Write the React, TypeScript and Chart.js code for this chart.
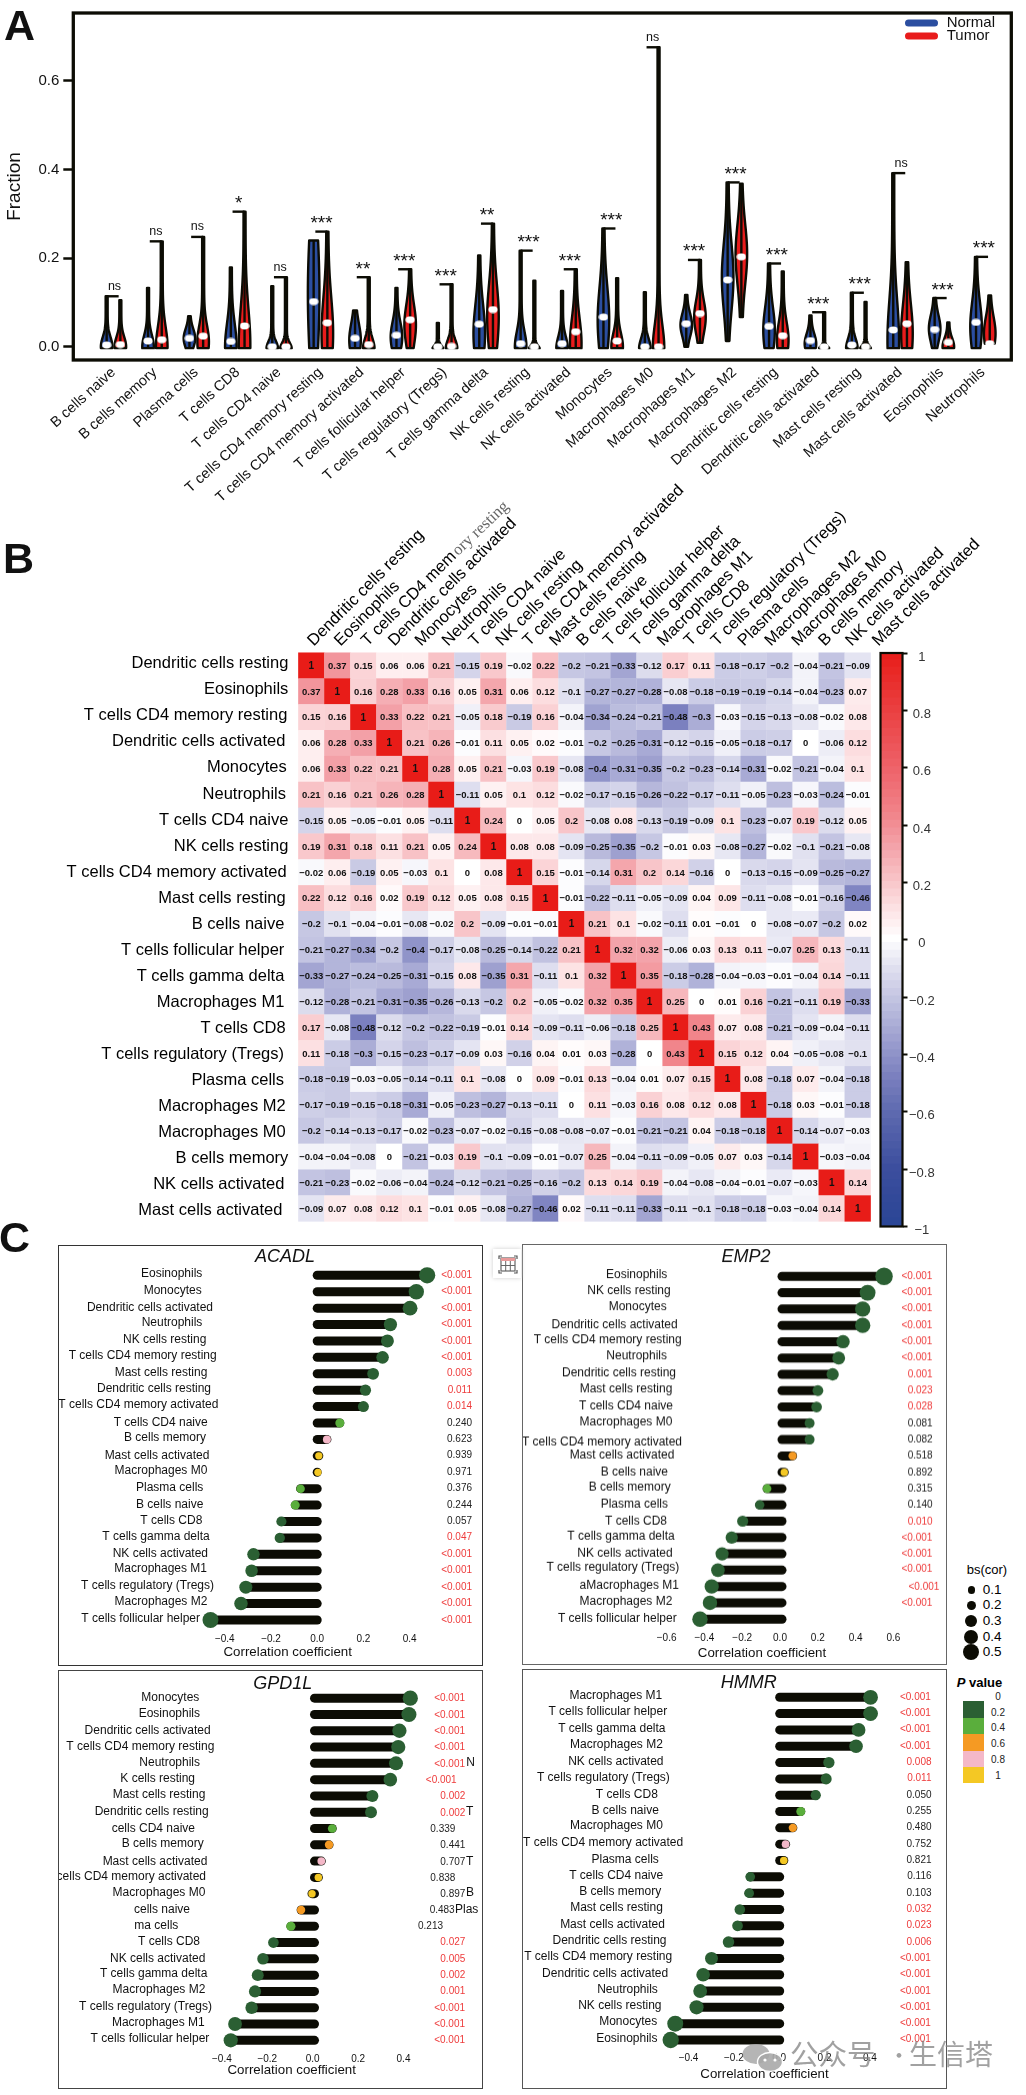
import React, { useEffect, useRef } from 'react';
import { Chart, registerables } from 'chart.js';
Chart.register(...registerables);

const FONT = '"Liberation Sans", Arial, sans-serif';
const INK = '#0c0c04';

/* ---------- Panel A data ---------- */
const violinCategories = ['B cells naive', 'B cells memory', 'Plasma cells', 'T cells CD8', 'T cells CD4 naive', 'T cells CD4 memory resting', 'T cells CD4 memory activated', 'T cells follicular helper', 'T cells regulatory (Tregs)', 'T cells gamma delta', 'NK cells resting', 'NK cells activated', 'Monocytes', 'Macrophages M0', 'Macrophages M1', 'Macrophages M2', 'Dendritic cells resting', 'Dendritic cells activated', 'Mast cells resting', 'Mast cells activated', 'Eosinophils', 'Neutrophils'];
const normalMax = [.114, .133, .069, .179, .137, .240, .082, .133, .054, .206, .217, .126, .267, .123, .117, .371, .188, .071, .122, .392, .110, .203];
const tumorMax = [.105, .238, .248, .305, .157, .260, .157, .175, .141, .278, .149, .175, .155, .676, .196, .368, .170, .078, .101, .191, .055, .116];
const normalMin = [-.003, -.003, -.003, -.003, -.003, -.003, -.003, -.003, -.003, -.003, -.003, -.003, -.003, -.003, 0, .013, -.003, -.003, -.003, -.003, -.003, -.003];
const tumorMin = [-.003, -.003, -.003, -.003, -.003, -.003, -.003, -.003, -.003, -.003, -.003, -.003, -.003, -.003, .009, .067, -.003, -.003, -.003, -.003, -.003, .007];
const normalMedian = [.004, .013, .019, .012, 0, .102, .019, .026, 0, .051, .007, .007, .067, 0, .052, .151, .046, .014, .004, .038, .039, .055];
const tumorMedian = [.005, .016, .024, .047, 0, .054, .005, .061, .001, .084, 0, .034, .013, 0, .075, .203, .025, 0, 0, .052, .010, .007];
const normalPeak = [0, 0, .019, 0, -.004, .120, .015, .022, -.007, .030, 0, -.004, .060, -.004, .049, .157, .037, .007, -.004, .015, .041, .045];
const tumorPeak = [0, 0, .011, .004, -.004, .030, -.004, .049, -.004, .067, -.007, .007, 0, -.004, .067, .209, .015, -.007, -.007, .030, 0, .030];
const normalSpread = [.022, .026, .021, .052, .016, .149, .037, .034, .009, .064, .034, .026, .075, .022, .026, .075, .052, .022, .022, .090, .030, .056];
const tumorSpread = [.022, .045, .037, .082, .013, .082, .022, .045, .019, .075, .009, .056, .030, .052, .037, .067, .041, .007, .009, .067, .019, .037];
const significance = ['ns', 'ns', 'ns', '*', 'ns', '***', '**', '***', '***', '**', '***', '***', '***', 'ns', '***', '***', '***', '***', '***', 'ns', '***', '***'];
const fractionTicks = [0, .2, .4, .6];

/* ---------- Panel B data ---------- */
const corrLabels = ['Dendritic cells resting', 'Eosinophils', 'T cells CD4 memory resting', 'Dendritic cells activated', 'Monocytes', 'Neutrophils', 'T cells CD4 naive', 'NK cells resting', 'T cells CD4 memory activated', 'Mast cells resting', 'B cells naive', 'T cells follicular helper', 'T cells gamma delta', 'Macrophages M1', 'T cells CD8', 'T cells regulatory (Tregs)', 'Plasma cells', 'Macrophages M2', 'Macrophages M0', 'B cells memory', 'NK cells activated', 'Mast cells activated'];
const corrRows = [
  [1, .37, .15, .06, .06, .21, -.15, .19, -.02, .22, -.2, -.21, -.33, -.12, .17, .11, -.18, -.17, -.2, -.04, -.21, -.09],
  [.37, 1, .16, .28, .33, .16, .05, .31, .06, .12, -.1, -.27, -.27, -.28, -.08, -.18, -.19, -.19, -.14, -.04, -.23, .07],
  [.15, .16, 1, .33, .22, .21, -.05, .18, -.19, .16, -.04, -.34, -.24, -.21, -.48, -.3, -.03, -.15, -.13, -.08, -.02, .08],
  [.06, .28, .33, 1, .21, .26, -.01, .11, .05, .02, -.01, -.2, -.25, -.31, -.12, -.15, -.05, -.18, -.17, 0, -.06, .12],
  [.06, .33, .22, .21, 1, .28, .05, .21, -.03, .19, -.08, -.4, -.31, -.35, -.2, -.23, -.14, -.31, -.02, -.21, -.04, .1],
  [.21, .16, .21, .26, .28, 1, -.11, .05, .1, .12, -.02, -.17, -.15, -.26, -.22, -.17, -.11, -.05, -.23, -.03, -.24, -.01],
  [-.15, .05, -.05, -.01, .05, -.11, 1, .24, 0, .05, .2, -.08, .08, -.13, -.19, -.09, .1, -.23, -.07, .19, -.12, .05],
  [.19, .31, .18, .11, .21, .05, .24, 1, .08, .08, -.09, -.25, -.35, -.2, -.01, .03, -.08, -.27, -.02, -.1, -.21, -.08],
  [-.02, .06, -.19, .05, -.03, .1, 0, .08, 1, .15, -.01, -.14, .31, .2, .14, -.16, 0, -.13, -.15, -.09, -.25, -.27],
  [.22, .12, .16, .02, .19, .12, .05, .08, .15, 1, -.01, -.22, -.11, -.05, -.09, .04, .09, -.11, -.08, -.01, -.16, -.46],
  [-.2, -.1, -.04, -.01, -.08, -.02, .2, -.09, -.01, -.01, 1, .21, .1, -.02, -.11, .01, -.01, 0, -.08, -.07, -.2, .02],
  [-.21, -.27, -.34, -.2, -.4, -.17, -.08, -.25, -.14, -.22, .21, 1, .32, .32, -.06, .03, .13, .11, -.07, .25, .13, -.11],
  [-.33, -.27, -.24, -.25, -.31, -.15, .08, -.35, .31, -.11, .1, .32, 1, .35, -.18, -.28, -.04, -.03, -.01, -.04, .14, -.11],
  [-.12, -.28, -.21, -.31, -.35, -.26, -.13, -.2, .2, -.05, -.02, .32, .35, 1, .25, 0, .01, .16, -.21, -.11, .19, -.33],
  [.17, -.08, -.48, -.12, -.2, -.22, -.19, -.01, .14, -.09, -.11, -.06, -.18, .25, 1, .43, .07, .08, -.21, -.09, -.04, -.11],
  [.11, -.18, -.3, -.15, -.23, -.17, -.09, .03, -.16, .04, .01, .03, -.28, 0, .43, 1, .15, .12, .04, -.05, -.08, -.1],
  [-.18, -.19, -.03, -.05, -.14, -.11, .1, -.08, 0, .09, -.01, .13, -.04, .01, .07, .15, 1, .08, -.18, .07, -.04, -.18],
  [-.17, -.19, -.15, -.18, -.31, -.05, -.23, -.27, -.13, -.11, 0, .11, -.03, .16, .08, .12, .08, 1, -.18, .03, -.01, -.18],
  [-.2, -.14, -.13, -.17, -.02, -.23, -.07, -.02, -.15, -.08, -.08, -.07, -.01, -.21, -.21, .04, -.18, -.18, 1, -.14, -.07, -.03],
  [-.04, -.04, -.08, 0, -.21, -.03, .19, -.1, -.09, -.01, -.07, .25, -.04, -.11, -.09, -.05, .07, .03, -.14, 1, -.03, -.04],
  [-.21, -.23, -.02, -.06, -.04, -.24, -.12, -.21, -.25, -.16, -.2, .13, .14, .19, -.04, -.08, -.04, -.01, -.07, -.03, 1, .14],
  [-.09, .07, .08, .12, .1, -.01, .05, -.08, -.27, -.46, .02, -.11, -.11, -.33, -.11, -.1, -.18, -.18, -.03, -.04, .14, 1],
];
const colorbarTicks = [1, .8, .6, .4, .2, 0, -.2, -.4, -.6, -.8, -1];
const corrLabelEnds = [865, 865, 862, 856, 860, 858, 865, 865, 860, 857, 853, 853, 853, 853, 857, 852, 852, 857, 857, 865, 853, 847];
const corrLabelMids = [491, 569, 647, 725, 803, 884, 961, 1039, 1117, 1195, 1273, 1351, 1430, 1508, 1586, 1664, 1742, 1820, 1898, 1976, 2054, 2132];

/* ---------- Panel C data ---------- */
const acadlLabels = ['Eosinophils', 'Monocytes', 'Dendritic cells activated', 'Neutrophils', 'NK cells resting', 'T cells CD4 memory resting', 'Mast cells resting', 'Dendritic cells resting', 'T cells CD4 memory activated', 'T cells CD4 naive', 'B cells memory', 'Mast cells activated', 'Macrophages M0', 'Plasma cells', 'B cells naive', 'T cells CD8', 'T cells gamma delta', 'NK cells activated', 'Macrophages M1', 'T cells regulatory (Tregs)', 'Macrophages M2', 'T cells follicular helper'];
const acadlCor = [.476, .429, .402, .317, .304, .283, .242, .209, .200, .098, .042, .007, .003, -.072, -.095, -.155, -.162, -.276, -.284, -.309, -.330, -.462];
const acadlP = ['<0.001', '<0.001', '<0.001', '<0.001', '<0.001', '<0.001', '0.003', '0.011', '0.014', '0.240', '0.623', '0.939', '0.971', '0.376', '0.244', '0.057', '0.047', '<0.001', '<0.001', '<0.001', '<0.001', '<0.001'];

const emp2Labels = ['Eosinophils', 'NK cells resting', 'Monocytes', 'Dendritic cells activated', 'T cells CD4 memory resting', 'Neutrophils', 'Dendritic cells resting', 'Mast cells resting', 'T cells CD4 naive', 'Macrophages M0', 'T cells CD4 memory activated', 'Mast cells activated', 'B cells naive', 'B cells memory', 'Plasma cells', 'T cells CD8', 'T cells gamma delta', 'NK cells activated', 'T cells regulatory (Tregs)', 'aMacrophages M1', 'Macrophages M2', 'T cells follicular helper'];
const emp2Cor = [.540, .453, .427, .427, .323, .300, .268, .190, .183, .146, .146, .056, .012, -.079, -.118, -.208, -.266, -.317, -.339, -.372, -.381, -.434];
const emp2P = ['<0.001', '<0.001', '<0.001', '<0.001', '<0.001', '<0.001', '0.001', '0.023', '0.028', '0.081', '0.082', '0.518', '0.892', '0.315', '0.140', '0.010', '<0.001', '<0.001', '<0.001', '<0.001', '<0.001', ''];

const gpd1lLabels = ['Monocytes', 'Eosinophils', 'Dendritic cells activated', 'T cells CD4 memory resting', 'Neutrophils', 'K cells resting', 'Mast cells resting', 'Dendritic cells resting', 'cells CD4 naive', 'B cells memory', 'Mast cells activated', 'cells CD4 memory activated', 'Macrophages M0', 'cells naive', 'ma cells', 'T cells CD8', 'NK cells activated', 'T cells gamma delta', 'Macrophages M2', 'T cells regulatory (Tregs)', 'Macrophages M1', 'T cells follicular helper'];
const gpd1lCor = [.422, .416, .374, .369, .359, .334, .255, .249, .078, .064, .030, .017, -.011, -.059, -.104, -.181, -.227, -.250, -.262, -.277, -.350, -.369];
const gpd1lP = ['<0.001', '<0.001', '<0.001', '<0.001', '<0.001', '<0.001', '0.002', '0.002', '0.339', '0.441', '0.707', '0.838', '0.897', '0.483', '0.213', '0.027', '0.005', '0.002', '0.001', '<0.001', '<0.001', '<0.001'];

const hmmrLabels = ['Macrophages M1', 'T cells follicular helper', 'T cells gamma delta', 'Macrophages M2', 'NK cells activated', 'T cells regulatory (Tregs)', 'T cells CD8', 'B cells naive', 'Macrophages M0', 'T cells CD4 memory activated', 'Plasma cells', 'T cells CD4 naive', 'B cells memory', 'Mast cells resting', 'Mast cells activated', 'Dendritic cells resting', 'T cells CD4 memory resting', 'Dendritic cells activated', 'Neutrophils', 'NK cells resting', 'Monocytes', 'Eosinophils'];
const hmmrCor = [.401, .401, .348, .337, .217, .205, .159, .093, .058, .026, .018, -.130, -.135, -.176, -.186, -.226, -.301, -.338, -.351, -.367, -.461, -.481];
const hmmrP = ['<0.001', '<0.001', '<0.001', '<0.001', '0.008', '0.011', '0.050', '0.255', '0.480', '0.752', '0.821', '0.116', '0.103', '0.032', '0.023', '0.006', '<0.001', '<0.001', '<0.001', '<0.001', '<0.001', '<0.001'];

const ticks4 = [-.4, -.2, 0, .2, .4];
const ticks6 = [-.6, -.4, -.2, 0, .2, .4, .6];
const bsLegendValues = [.1, .2, .3, .4, .5];
const pLegendTicks = ['0', '0.2', '0.4', '0.6', '0.8', '1'];
const pBinColors = ['#2b5f33', '#5aae3c', '#f59a23', '#f4b8c8', '#f4c824'];

/* ---------- layout of panel C (reference-pixel readings, 3x crop units) ---------- */
const panels: any[] = [
  {
    title: 'ACADL', labels: acadlLabels, cor: acadlCor, p: acadlP, ticks: ticks4,
    left: 59, right: 482, top: 1246, bottom: 1665, baseX: 0, baseY: 1240,
    zero: 317.2, unit: 231, center: 287.7, row0: 1275.3, rowN: 1620, tickShift: 0, titleX: 285, titleY: 1256.7, axisPad: 4.5, tickPad: 5,
    labelEnd: [607, 605, 639, 607, 619, 650, 622, 633, 655, 623, 618, 628, 622, 610, 610, 607, 629, 624, 621, 642, 622, 600],
    labelMid: [102, 153, 204, 249, 300, 348, 399, 447, 495, 549, 594, 648, 693, 744, 795, 843, 891, 942, 987, 1038, 1086, 1137],
    pEnd: Array(22).fill(1416),
    pMid: [106, 155, 205, 254, 304, 353, 401, 451, 500, 550, 598, 647, 697, 745, 796, 845, 892, 943, 991, 1042, 1090, 1141],
    stray: [], border: '#333',
  },
  {
    title: 'EMP2', labels: emp2Labels, cor: emp2Cor, p: emp2P, ticks: ticks6,
    left: 523, right: 946, top: 1245, bottom: 1663.5, baseX: 510, baseY: 1240,
    zero: 782, unit: 189, center: 762, row0: 1276.3, rowN: 1618.7, tickShift: -2, titleX: 746, titleY: 1256.7, axisPad: 2.8, tickPad: 5,
    labelEnd: [472, 482, 470, 503, 515, 471, 498, 487, 489, 487, 516, 493, 474, 482, 474, 471, 494, 488, 508, 507, 487, 500],
    labelMid: [105, 153, 201, 255, 300, 348, 399, 447, 498, 546, 606, 645, 696, 741, 792, 843, 888, 939, 981, 1035, 1083, 1134],
    pEnd: [1267, 1267, 1267, 1267, 1267, 1267, 1268, 1268, 1268, 1268, 1268, 1268, 1268, 1268, 1268, 1268, 1267, 1267, 1267, 1288, 1267, 1267],
    pMid: [109, 157, 205, 256, 304, 352, 403, 451, 499, 550, 598, 646, 697, 745, 793, 844, 892, 940, 985, 1039, 1087, 1136],
    stray: [], border: '#666',
  },
  {
    title: 'GPD1L', labels: gpd1lLabels, cor: gpd1lCor, p: gpd1lP, ticks: ticks4,
    left: 59, right: 482, top: 1670.5, bottom: 2088, baseX: 0, baseY: 1640,
    zero: 314.5, unit: 227, center: 291.7, row0: 1697.7, rowN: 2040.3, tickShift: -1.8, titleX: 282.7, titleY: 1683.3, axisPad: 9.5, tickPad: 4.5,
    labelEnd: [598, 600, 632, 643, 600, 585, 616, 626, 585, 611, 622, 618, 616, 570, 535, 600, 616, 622, 616, 636, 614, 628],
    labelMid: [171, 219, 270, 318, 366, 414, 462, 513, 564, 609, 663, 708, 756, 807, 855, 903, 954, 999, 1047, 1098, 1146, 1194],
    pEnd: [1395, 1395, 1395, 1395, 1395, 1370, 1396, 1396, 1366, 1396, 1396, 1366, 1396, 1364, 1329, 1396, 1396, 1396, 1396, 1395, 1395, 1395],
    pMid: [172, 223, 271, 319, 370, 418, 466, 517, 565, 613, 664, 712, 760, 808, 856, 904, 955, 1003, 1051, 1102, 1150, 1198],
    stray: [['N', 1399, 366], ['T', 1398, 513], ['T', 1398, 663], ['B', 1398, 756], ['Plas', 1365, 807]], border: '#444',
  },
  {
    title: 'HMMR', labels: hmmrLabels, cor: hmmrCor, p: hmmrP, ticks: ticks4,
    left: 522.5, right: 945.5, top: 1670, bottom: 2088, baseX: 510, baseY: 1640,
    zero: 779.2, unit: 226.6, center: 764, row0: 1697.3, rowN: 2040, tickShift: -.5, titleX: 748.3, titleY: 1682.7, axisPad: 5.5, tickPad: 4.5,
    labelEnd: [455, 470, 465, 457, 459, 478, 442, 445, 457, 518, 445, 458, 452, 457, 463, 468, 485, 473, 442, 453, 440, 441],
    labelMid: [168, 216, 267, 315, 366, 414, 465, 513, 558, 609, 660, 708, 756, 804, 855, 903, 951, 1002, 1050, 1098, 1146, 1197],
    pEnd: [1261, 1261, 1261, 1261, 1263, 1263, 1263, 1263, 1263, 1263, 1263, 1263, 1263, 1263, 1263, 1263, 1261, 1261, 1261, 1261, 1261, 1261],
    pMid: [172, 220, 268, 319, 367, 415, 466, 514, 562, 613, 661, 709, 760, 808, 856, 907, 955, 1003, 1054, 1102, 1150, 1198],
    stray: [], border: '#555',
  },
];

/* ---------- helpers ---------- */
const RAMP: [number, string][] = [[-1, '#2a4595'], [-.8, '#3c4e9e'], [-.6, '#5f6bb0'], [-.48, '#7b80bf'], [-.33, '#a3a5d2'], [-.2, '#c6c7e3'], [-.1, '#e1e1f0'], [0, '#ffffff'], [.12, '#fcdddf'], [.21, '#f8c2c6'], [.33, '#f3a0a7'], [.43, '#f1858b'], [.6, '#ee6168'], [.8, '#ea3f40'], [1, '#e81c18']];
const hex = (s: string) => [1, 3, 5].map(i => parseInt(s.slice(i, i + 2), 16));
function ramp(v: number) {
  for (let i = 1; i < RAMP.length; i++) {
    if (v <= RAMP[i][0]) {
      const [a, ca] = RAMP[i - 1];
      const [b, cb] = RAMP[i];
      const t = (v - a) / (b - a);
      const A = hex(ca);
      const B = hex(cb);
      return `rgb(${A.map((x, k) => Math.round(x + (B[k] - x) * t)).join(',')})`;
    }
  }
  return RAMP[RAMP.length - 1][1];
}
const minus = (s: string) => s.replace('-', '\u2212');
const fmt = (v: number) => minus(String(v));

// Puts an axis' tick labels at individually read positions (the pasted labels of the figure are not aligned).
function placeTicks(scaleId: string, pos: [number, number][]) {
  return {
    id: 'place-' + scaleId,
    beforeDraw(chart: any) {
      const s = chart.scales[scaleId];
      s._computeLabelArea = () => null;
      const items = s.getLabelItems();
      if (items.__placed) return;
      items.__placed = true;
      items.forEach((it: any, i: number) => {
        if (pos[i]) it.options.translation = pos[i];
      });
    },
  };
}

const base = { responsive: false, animation: false as const, events: [] as string[] };
const quiet = { legend: { display: false }, tooltip: { enabled: false } };

function violinConfig(ellipse: HTMLCanvasElement) {
  const H = 510;
  const L = 73.3, R = 1011.3, T = 10.7, B = 360;
  const x0 = 113.5, pitch = 41.4, zeroY = 346.7, unitY = 446;
  const off = 6.85 / pitch;
  const violins = {
    id: 'violins',
    beforeDatasetsDraw(chart: any) {
      const { ctx, scales: { x, y } } = chart;
      const draw = (cx: number, lo: number, hi: number, pk: number, sd: number, col: string) => {
        const hw = (v: number) => 1 + 4.8 * Math.exp(-.5 * ((v - pk) / sd) ** 2);
        const n = 48;
        ctx.beginPath();
        for (let k = 0; k <= n; k++) {
          const v = lo + (hi - lo) * k / n;
          ctx.lineTo(x.getPixelForValue(cx) - hw(v), y.getPixelForValue(v));
        }
        for (let k = n; k >= 0; k--) {
          const v = lo + (hi - lo) * k / n;
          ctx.lineTo(x.getPixelForValue(cx) + hw(v), y.getPixelForValue(v));
        }
        ctx.closePath();
        ctx.fillStyle = col;
        ctx.fill();
        ctx.lineWidth = 2.4;
        ctx.lineJoin = 'round';
        ctx.strokeStyle = INK;
        ctx.stroke();
        ctx.beginPath();
        ctx.moveTo(x.getPixelForValue(cx), y.getPixelForValue(lo));
        ctx.lineTo(x.getPixelForValue(cx), y.getPixelForValue(hi));
        ctx.stroke();
      };
      ctx.save();
      violinCategories.forEach((_, i) => {
        draw(i - off, normalMin[i], normalMax[i], normalPeak[i], normalSpread[i], '#2b4ea0');
        draw(i + off, tumorMin[i], tumorMax[i], tumorPeak[i], tumorSpread[i], '#e81c1c');
        const nHigh = normalMax[i] >= tumorMax[i];
        const top = Math.max(normalMax[i], tumorMax[i]);
        const sx = x.getPixelForValue(nHigh ? i - off : i + off);
        const py = y.getPixelForValue(top);
        ctx.beginPath();
        ctx.moveTo(sx, py);
        ctx.lineTo(sx + (nHigh ? 12 : -12), py);
        ctx.stroke();
        const cxp = x.getPixelForValue(i) + 1;
        ctx.fillStyle = '#111';
        ctx.textAlign = 'center';
        if (significance[i] === 'ns') {
          ctx.font = `12.5px ${FONT}`;
          ctx.textBaseline = 'middle';
          ctx.fillText('ns', cxp, py - 10);
        } else {
          ctx.font = `19px ${FONT}`;
          ctx.textBaseline = 'alphabetic';
          ctx.fillText(significance[i], cxp, py - 2.5);
        }
      });
      ctx.restore();
    },
    afterDraw(chart: any) {
      const { ctx, chartArea: a } = chart;
      ctx.save();
      ctx.strokeStyle = INK;
      ctx.lineWidth = 3.3;
      ctx.strokeRect(a.left, a.top, a.right - a.left, a.bottom - a.top);
      const bar = (yy: number, col: string, label: string) => {
        ctx.fillStyle = col;
        ctx.beginPath();
        ctx.roundRect(905, yy - 3.5, 33, 7, 3.5);
        ctx.fill();
        ctx.fillStyle = '#111';
        ctx.font = `15px ${FONT}`;
        ctx.textAlign = 'left';
        ctx.textBaseline = 'middle';
        ctx.fillText(label, 946.7, yy);
      };
      bar(23, '#2b4ea0', 'Normal');
      bar(36, '#e81c1c', 'Tumor');
      ctx.restore();
    },
  };
  return {
    type: 'scatter',
    data: {
      datasets: [
        { label: 'Normal', data: normalMedian.map((v, i) => ({ x: i - off, y: v })), pointStyle: ellipse, clip: false },
        { label: 'Tumor', data: tumorMedian.map((v, i) => ({ x: i + off, y: v })), pointStyle: ellipse, clip: false },
      ],
    },
    options: {
      ...base,
      layout: { padding: { top: T, right: 1026 - R, left: 0, bottom: 0 } },
      plugins: quiet,
      scales: {
        x: {
          type: 'linear',
          min: (L - x0) / pitch,
          max: (R - x0) / pitch,
          grid: { display: false, drawTicks: false },
          border: { display: false },
          afterBuildTicks: (s: any) => { s.ticks = violinCategories.map((_, i) => ({ value: i })); },
          afterFit: (s: any) => { s.height = H - B; },
          ticks: {
            autoSkip: false, minRotation: 42, maxRotation: 42, padding: 4,
            color: '#111', font: { family: FONT, size: 14.5 },
            callback: (v: number) => violinCategories[v],
          },
        },
        y: {
          type: 'linear',
          min: (zeroY - B) / unitY,
          max: (zeroY - T) / unitY,
          border: { display: false },
          grid: { drawOnChartArea: false, tickLength: 10, tickWidth: 2.5, tickColor: INK },
          afterBuildTicks: (s: any) => { s.ticks = fractionTicks.map(value => ({ value })); },
          afterFit: (s: any) => { s.width = L; },
          title: { display: true, text: 'Fraction', color: '#111', font: { family: FONT, size: 19 }, padding: { top: 3, bottom: 0 } },
          ticks: { padding: 4, color: '#111', font: { family: FONT, size: 15 }, callback: (v: number) => v.toFixed(1) },
        },
      },
    },
    plugins: [violins],
  };
}

function heatmapConfig() {
  const OY = 470, H = 770;
  const L = 298.3, R = 870.7, T = 652.7, B = 1227;
  const points: any[] = [];
  const colors: string[] = [];
  corrRows.forEach((row, r) => row.forEach((v, c) => { points.push({ x: c, y: r, v }); colors.push(ramp(v)); }));
  const yPos = corrLabels.map((_, i) => [corrLabelEnds[i] / 3, 500 + corrLabelMids[i] / 3 - OY] as [number, number]);
  const xPos = corrLabels.map((_, i) => [317.5 + 26.9 * i, 650.5 - OY] as [number, number]);
  const cellText = {
    id: 'cellText',
    afterDatasetsDraw(chart: any) {
      const { ctx, scales: { x, y } } = chart;
      ctx.save();
      ctx.textAlign = 'center';
      ctx.textBaseline = 'middle';
      ctx.fillStyle = '#111';
      points.forEach(p => {
        ctx.font = `bold ${p.v === 1 ? 10 : 9.5}px ${FONT}`;
        ctx.fillText(fmt(p.v), x.getPixelForValue(p.x), y.getPixelForValue(p.y) + .5);
      });
      // the tail of one column label sits in a different, grey serif face in the figure
      ctx.translate(455, 553 - OY);
      ctx.rotate(-43.5 * Math.PI / 180);
      ctx.font = '16.5px "Liberation Serif", serif';
      ctx.fillStyle = '#666';
      ctx.textAlign = 'left';
      ctx.fillText('ory resting', 0, 0);
      ctx.restore();
    },
  };
  const common = { type: 'linear', min: -.5, max: 21.5, grid: { display: false, drawTicks: false }, border: { display: false } };
  return {
    type: 'scatter',
    data: { datasets: [{ data: points, pointStyle: 'rect', pointRadius: 18.6, pointBackgroundColor: colors, pointBorderWidth: 0, borderWidth: 0, clip: false }] },
    options: {
      ...base,
      layout: { padding: { left: 0, top: 0, right: 1026 - R, bottom: OY + H - B } },
      plugins: quiet,
      scales: {
        x: {
          ...common,
          position: 'top',
          afterBuildTicks: (s: any) => { s.ticks = corrLabels.map((_, i) => ({ value: i })); },
          afterFit: (s: any) => { s.height = T - OY; },
          ticks: {
            autoSkip: false, minRotation: 45, maxRotation: 45, color: '#000', font: { family: FONT, size: 16.5 },
            callback: (v: number) => v === 2 ? 'T cells CD4 mem' : corrLabels[v],
          },
        },
        y: {
          ...common,
          reverse: true,
          afterBuildTicks: (s: any) => { s.ticks = corrLabels.map((_, i) => ({ value: i })); },
          afterFit: (s: any) => { s.width = L; },
          ticks: { autoSkip: false, color: '#000', font: { family: FONT, size: 16.5 }, callback: (v: number) => corrLabels[v] },
        },
      },
    },
    plugins: [placeTicks('x', xPos), placeTicks('y', yPos), cellText],
  };
}

function colorbarConfig() {
  const OX = 870, OY = 640, W = 110, H = 600;
  const L = 880.5, R = 902.5, T = 653, B = 1226.5;
  const n = 75;
  const steps = Array.from({ length: n }, (_, k) => -1 + k * 2 / n);
  const frame = {
    id: 'frame',
    afterDatasetsDraw(chart: any) {
      const { ctx, chartArea: a } = chart;
      ctx.save();
      ctx.strokeStyle = INK;
      ctx.lineWidth = 2.2;
      ctx.strokeRect(a.left, a.top, a.right - a.left, a.bottom - a.top);
      ctx.restore();
    },
  };
  return {
    type: 'bar',
    data: {
      labels: [''],
      datasets: steps.map(lo => ({
        data: [[lo, lo + 2 / n + .004]],
        backgroundColor: ramp(lo + 1 / n),
        borderWidth: 0,
        barPercentage: 1,
        categoryPercentage: 1,
        grouped: false,
      })),
    },
    options: {
      ...base,
      layout: { padding: { left: L - OX, top: T - OY, bottom: OY + H - B, right: 0 } },
      plugins: quiet,
      scales: {
        x: { display: false },
        y: {
          position: 'right',
          min: -1,
          max: 1,
          border: { display: false },
          grid: { drawOnChartArea: false, tickLength: 5, tickWidth: 2, tickColor: INK },
          afterBuildTicks: (s: any) => { s.ticks = colorbarTicks.map(value => ({ value })); },
          afterFit: (s: any) => { s.width = OX + W - R; },
          ticks: {
            autoSkip: false, crossAlign: 'center', padding: 1.5, labelOffset: 4,
            color: '#333', font: { family: FONT, size: 13 }, callback: (v: number) => fmt(v),
          },
        },
      },
    },
    plugins: [frame],
  };
}

function lollipopConfig(p: any) {
  const pitch = (p.rowN - p.row0) / 21;
  const aL = p.center - 150, aR = p.center + 150, aT = p.row0 - pitch / 2, aB = p.rowN + pitch / 2;
  const numP = (s: string) => (s === '' || s[0] === '<') ? .0005 : parseFloat(s);
  const red = (s: string) => s !== '' && numP(s) < .05;
  const rows = p.cor.map((_: number, i: number) => i);
  const labelPos = rows.map((i: number) => [p.baseX + p.labelEnd[i] / 3 - p.left, p.baseY + p.labelMid[i] / 3 - p.top]);
  const pPos = rows.map((i: number) => [p.baseX + p.pEnd[i] / 3 - p.left, p.baseY + p.pMid[i] / 3 - p.top]);
  const extras = {
    id: 'extras',
    afterDraw(chart: any) {
      const { ctx } = chart;
      ctx.save();
      ctx.textBaseline = 'middle';
      ctx.textAlign = 'center';
      ctx.fillStyle = '#111';
      ctx.font = `italic 18px ${FONT}`;
      ctx.fillText(p.title, p.titleX - p.left, p.titleY - p.top);
      ctx.textAlign = 'left';
      ctx.font = `12px ${FONT}`;
      p.stray.forEach((s: any) => ctx.fillText(s[0], p.baseX + s[1] / 3 - p.left, p.baseY + s[2] / 3 - p.top));
      ctx.restore();
    },
  };
  const rowScale = {
    type: 'linear', min: -.5, max: 21.5, reverse: true,
    grid: { display: false, drawTicks: false }, border: { display: false },
    afterBuildTicks: (s: any) => { s.ticks = rows.map((value: number) => ({ value })); },
  };
  return {
    type: 'scatter',
    data: {
      datasets: [
        ...rows.map((i: number) => ({
          data: [{ x: 0, y: i }, { x: p.cor[i], y: i }],
          showLine: true, borderColor: INK, borderWidth: 9, borderCapStyle: 'round',
          pointRadius: 0, clip: false, order: 2,
        })),
        {
          data: p.cor.map((v: number, i: number) => ({ x: v, y: i })),
          pointRadius: p.cor.map((v: number) => 3.6 + 9.5 * Math.abs(v)),
          pointBackgroundColor: p.p.map((s: string) => pBinColors[Math.min(4, Math.floor(numP(s) / .2))]),
          pointBorderWidth: 0, clip: false, order: 1,
        },
      ],
    },
    options: {
      ...base,
      layout: { padding: { top: aT - p.top, left: 0, right: 0, bottom: 0 } },
      plugins: quiet,
      scales: {
        x: {
          type: 'linear',
          min: (aL - p.zero) / p.unit,
          max: (aR - p.zero) / p.unit,
          grid: { display: false, drawTicks: false },
          border: { display: false },
          afterBuildTicks: (s: any) => { s.ticks = p.ticks.map((value: number) => ({ value })); },
          afterFit: (s: any) => { s.height = p.bottom - aB; },
          title: {
            display: true, text: 'Correlation coefficient', color: '#111',
            font: { family: FONT, size: 13.3 }, padding: { top: p.axisPad, bottom: p.axisPad },
          },
          ticks: {
            autoSkip: false, padding: p.tickPad, labelOffset: p.tickShift, maxRotation: 0,
            color: '#111', font: { family: FONT, size: 10 },
            callback: (v: number) => minus(v.toFixed(1)),
          },
        },
        y: {
          ...rowScale,
          afterFit: (s: any) => { s.width = aL - p.left; },
          ticks: { autoSkip: false, color: '#111', font: { family: FONT, size: 12 }, callback: (v: number) => p.labels[v] },
        },
        y2: {
          ...rowScale,
          axis: 'y',
          position: 'right',
          afterFit: (s: any) => { s.width = p.right - aR; },
          ticks: {
            autoSkip: false, crossAlign: 'far',
            color: (c: any) => red(p.p[c.tick.value]) ? '#ee3b3b' : '#222',
            font: { family: FONT, size: 10 },
            callback: (v: number) => p.p[v],
          },
        },
      },
    },
    plugins: [placeTicks('y', labelPos), placeTicks('y2', pPos), extras],
  };
}

function Canvas({ make, left, top, width, height }: any) {
  const ref = useRef<HTMLCanvasElement>(null);
  useEffect(() => {
    const chart = new Chart(ref.current as any, make());
    return () => chart.destroy();
  }, []);
  return <canvas ref={ref} width={width} height={height} style={{ position: 'absolute', left, top, width, height, display: 'block' }} />;
}

const abs = (left: number, top: number, extra: any = {}) => ({ position: 'absolute' as const, left, top, fontFamily: FONT, ...extra });
const centerText = (size: number) => ({ fontSize: size, lineHeight: '16px', height: 16, whiteSpace: 'nowrap' as const });

function makeEllipse() {
  const c = document.createElement('canvas');
  c.width = 10;
  c.height = 8;
  const g = c.getContext('2d') as CanvasRenderingContext2D;
  g.fillStyle = '#fff';
  g.beginPath();
  g.ellipse(5, 4, 4.6, 3.4, 0, 0, Math.PI * 2);
  g.fill();
  return c;
}

const bsRadius = [3.7, 4.7, 6, 7, 8];
const bsY = [1590, 1605.3, 1621.3, 1636.7, 1652.3];
const pBlockY = [1701, 1718, 1734, 1751, 1767, 1783];
const pLabelY = [1696.7, 1712.7, 1728, 1744, 1760, 1776];

export default function App() {
  return (
    <div style={{ position: 'absolute', left: 0, top: 0, width: 1026, height: 2095, background: '#fff', overflow: 'hidden' }}>
      <Canvas make={() => violinConfig(makeEllipse())} left={0} top={0} width={1026} height={510} />
      <Canvas make={heatmapConfig} left={0} top={470} width={1026} height={770} />
      <Canvas make={colorbarConfig} left={870} top={640} width={110} height={600} />
      {panels.map(p => (
        <React.Fragment key={p.title}>
          <Canvas make={() => lollipopConfig(p)} left={p.left} top={p.top} width={p.right - p.left} height={p.bottom - p.top} />
          <div style={{ position: 'absolute', left: p.left - 1, top: p.top - 1, width: p.right - p.left + 2, height: p.bottom - p.top + 2, border: `1.6px solid ${p.border}`, boxSizing: 'border-box' }} />
        </React.Fragment>
      ))}

      <div style={abs(4, 3.6, { fontSize: 43, lineHeight: '43px', fontWeight: 700, color: '#111' })}>A</div>
      <div style={abs(3, 536.6, { fontSize: 43, lineHeight: '43px', fontWeight: 700, color: '#111' })}>B</div>
      <div style={abs(-1, 1215.6, { fontSize: 43, lineHeight: '43px', fontWeight: 700, color: '#111' })}>C</div>

      {/* table icon between the top panels */}
      <svg style={{ position: 'absolute', left: 492, top: 1248, filter: 'drop-shadow(0 0 2px #ccc)' }} width="31" height="32">
        <rect x="1" y="1" width="28" height="29" fill="#fff" />
        <rect x="9" y="10" width="14" height="13" fill="none" stroke="#666" strokeWidth="1.2" />
        <rect x="9" y="10" width="14" height="3" fill="#e89a9a" />
        <path d="M9 17.5h14M13.7 13v10M18.3 13v10" stroke="#666" strokeWidth="1" />
        <path d="M7 11V8h3M22 8h3v3M25 22v3h-3M10 25H7v-3" fill="none" stroke="#555" strokeWidth="1.2" />
      </svg>

      {/* size legend */}
      <div style={abs(966.7, 1562, centerText(13))}>bs(cor)</div>
      {bsLegendValues.map((v, i) => (
        <React.Fragment key={v}>
          <div style={{ position: 'absolute', left: 971.3 - bsRadius[i], top: bsY[i] - bsRadius[i], width: bsRadius[i] * 2, height: bsRadius[i] * 2, borderRadius: '50%', background: INK }} />
          <div style={abs(982.7, bsY[i] - 8, centerText(13.5))}>{v}</div>
        </React.Fragment>
      ))}

      {/* P value legend */}
      <div style={abs(956.7, 1675, { ...centerText(13), fontWeight: 700 })}><i>P</i> value</div>
      {pBinColors.map((c, i) => (
        <div key={c} style={{ position: 'absolute', left: 963, top: pBlockY[i], width: 21, height: pBlockY[i + 1] - pBlockY[i], background: c }} />
      ))}
      {pLegendTicks.map((t, i) => (
        <div key={t} style={abs(988, pLabelY[i] - 8, { ...centerText(10), width: 20, textAlign: 'center', color: '#222' })}>{t}</div>
      ))}

      {/* watermark */}
      <svg style={{ position: 'absolute', left: 742, top: 2042 }} width="44" height="32">
        <ellipse cx="14" cy="12" rx="13.5" ry="10" fill="#a8a8a8" fillOpacity=".85" />
        <ellipse cx="28" cy="20" rx="12.5" ry="9.5" fill="#a8a8a8" fillOpacity=".9" stroke="#fff" strokeWidth="1.4" />
        <circle cx="23" cy="18" r="1.6" fill="#fff" />
        <circle cx="33" cy="18" r="1.6" fill="#fff" />
      </svg>
      <div style={{ position: 'absolute', left: 790, top: 2033, fontFamily: '"Noto Sans CJK SC"', fontSize: 28.5, lineHeight: '40px', color: 'rgba(130,130,130,.75)', whiteSpace: 'nowrap' }}>公众号</div>
      <div style={{ position: 'absolute', left: 888, top: 2033, fontFamily: '"Noto Sans CJK SC"', fontSize: 22, lineHeight: '40px', color: 'rgba(130,130,130,.75)' }}>·</div>
      <div style={{ position: 'absolute', left: 909, top: 2033, fontFamily: '"Noto Sans CJK SC"', fontSize: 28, lineHeight: '40px', color: 'rgba(130,130,130,.75)', whiteSpace: 'nowrap' }}>生信塔</div>
    </div>
  );
}
